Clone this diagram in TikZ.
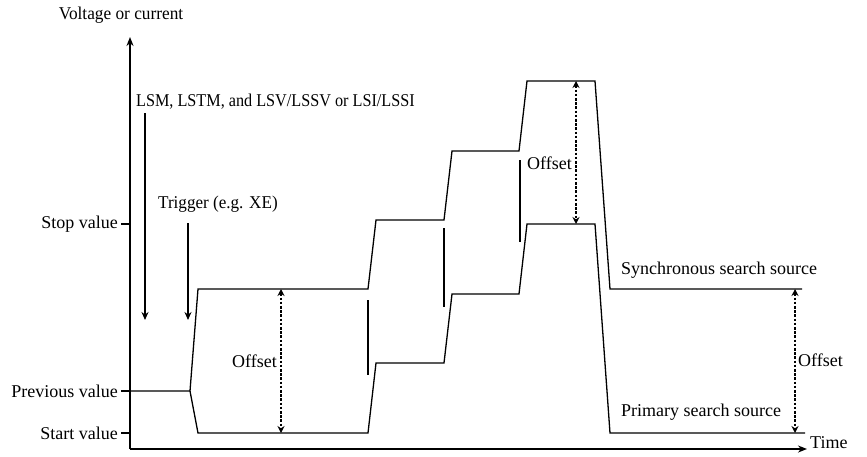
\documentclass[tikz,border=0pt]{standalone}
\usepackage{fontspec}
\setmainfont{Liberation Serif}
\usetikzlibrary{arrows.meta}
\begin{document}
\begin{tikzpicture}[x=1pt,y=-1pt,
  lbl/.style={font=\fontsize{18}{21}\selectfont, inner sep=0pt},
  axisline/.style={line width=2pt, -{Stealth[length=9pt,width=7pt]}},
  tickline/.style={line width=1.8pt},
  wave/.style={line width=1.3pt},
  markline/.style={line width=2.4pt},
  cmdarrow/.style={line width=2pt, -{Stealth[length=8pt,width=7pt]}},
  offsetarrow/.style={line width=2.2pt, dash pattern=on 2.6pt off 1.6pt, {Stealth[length=7pt,width=7pt]}-{Stealth[length=7pt,width=7pt]}},
]
\useasboundingbox (0,0) rectangle (867,456);
% axes
\coordinate (O) at (130,449);
\coordinate (Ytop) at (130,37);
\coordinate (Xend) at (807,449);
\draw[axisline] (O) -- (Ytop);
\draw[axisline] (O) -- (Xend);
\node[lbl, xscale=0.96, transform shape] (ylab) at (121,15) {Voltage or current};
\node[lbl, anchor=west] (xlab) at (810,443) {Time};
% ticks
\coordinate (tstopA) at (121,224); \coordinate (tstopB) at (130,224);
\coordinate (tprevA) at (121,391); \coordinate (tprevB) at (130,391);
\coordinate (tstartA) at (121,433); \coordinate (tstartB) at (130,433);
\draw[tickline] (tstopA) -- (tstopB);
\draw[tickline] (tprevA) -- (tprevB);
\draw[tickline] (tstartA) -- (tstartB);
\node[lbl, anchor=east] (stoplab) at (118,224) {Stop value};
\node[lbl, anchor=east] (prevlab) at (118,391) {Previous value};
\node[lbl, anchor=east] (startlab) at (118,433) {Start value};
% command arrows
\node[lbl, anchor=west, xscale=0.9, transform shape] (cmdlab) at (136,102) {LSM, LSTM, and LSV/LSSV or LSI/LSSI};
\node[lbl, anchor=west, xscale=0.95, transform shape] (trglab) at (158,204) {Trigger (e.g. XE)};
\coordinate (c1a) at (145,113); \coordinate (c1b) at (145,320);
\coordinate (c2a) at (188,223); \coordinate (c2b) at (188,320);
\draw[cmdarrow] (c1a) -- (c1b);
\draw[cmdarrow] (c2a) -- (c2b);
% waveforms
\coordinate (pv0) at (130,391); \coordinate (pv1) at (190,391);
\coordinate (s1) at (198,289); \coordinate (s2) at (368,289);
\coordinate (s3) at (376,220); \coordinate (s4) at (444,220);
\coordinate (s5) at (452,151); \coordinate (s6) at (519,151);
\coordinate (s7) at (527,81);  \coordinate (s8) at (595,81);
\coordinate (s9) at (610,289); \coordinate (s10) at (802,289);
\coordinate (p1) at (198,433); \coordinate (p2) at (368,433);
\coordinate (p3) at (376,363); \coordinate (p4) at (444,363);
\coordinate (p5) at (452,294); \coordinate (p6) at (519,294);
\coordinate (p7) at (527,224); \coordinate (p8) at (595,224);
\coordinate (p9) at (610,433); \coordinate (p10) at (805,433);
\draw[wave] (pv0) -- (pv1) -- (s1) -- (s2) -- (s3) -- (s4) -- (s5) -- (s6) -- (s7) -- (s8) -- (s9) -- (s10);
\draw[wave] (pv1) -- (p1) -- (p2) -- (p3) -- (p4) -- (p5) -- (p6) -- (p7) -- (p8) -- (p9) -- (p10);
% markers
\coordinate (m1a) at (368,300); \coordinate (m1b) at (368,375);
\coordinate (m2a) at (444,228); \coordinate (m2b) at (444,307);
\coordinate (m3a) at (520,160); \coordinate (m3b) at (520,242);
\draw[markline] (m1a) -- (m1b);
\draw[markline] (m2a) -- (m2b);
\draw[markline] (m3a) -- (m3b);
% offsets
\coordinate (o1a) at (281,289); \coordinate (o1b) at (281,433);
\coordinate (o2a) at (576,81);  \coordinate (o2b) at (576,224);
\coordinate (o3a) at (795,289); \coordinate (o3b) at (795,433);
\draw[offsetarrow] (o1a) -- (o1b);
\draw[offsetarrow] (o2a) -- (o2b);
\draw[offsetarrow] (o3a) -- (o3b);
\node[lbl, anchor=east] (off1) at (277,361) {Offset};
\node[lbl, anchor=east] (off2) at (572,163) {Offset};
\node[lbl, anchor=west] (off3) at (798,360) {Offset};
\node[lbl, anchor=west] (synclab) at (621,270) {Synchronous search source};
\node[lbl, anchor=west] (primlab) at (621,412) {Primary search source};
\end{tikzpicture}
\end{document}
